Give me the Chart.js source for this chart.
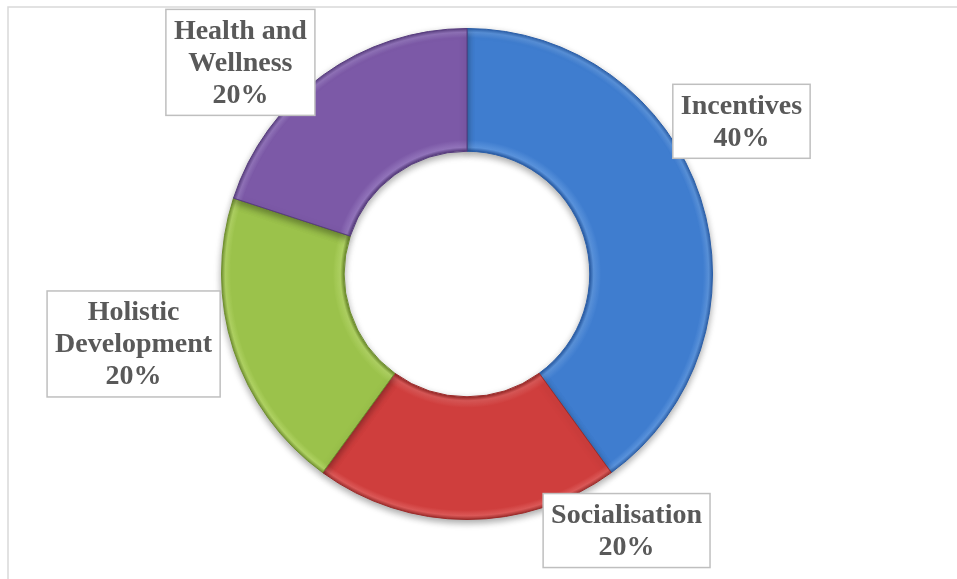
<!DOCTYPE html>
<html>
<head>
<meta charset="utf-8">
<script src="https://cdn.jsdelivr.net/npm/chart.js@4/dist/chart.umd.min.js"></script>
<style>
  html, body { margin: 0; padding: 0; background: #ffffff; }
  #wrap { position: relative; width: 957px; height: 579px; }
  canvas { display: block; }
</style>
</head>
<body>
<div id="wrap"><canvas id="c" width="957" height="579"></canvas></div>
<script>
// ---- data ----
const categories = ["Incentives", "Socialisation", "Holistic Development", "Health and Wellness"];
const labelLines = [["Incentives"], ["Socialisation"], ["Holistic", "Development"], ["Health and", "Wellness"]];
const values = [40, 20, 20, 20];

// ---- styles ----
const baseColors = ["#3f7dcf", "#cf3e3d", "#9bc24b", "#7c59a7"];
const lightColors = ["#5a93dc", "#dc5958", "#b0d363", "#9274bb"];
const darkColors = ["#2a5ea8", "#9c2b2a", "#6f8f2e", "#573c7e"];
// label box centre offsets, as fractions of the outer radius, relative to chart centre
const labelOffsets = [[1.118, -0.622], [0.650, 1.045], [-1.358, 0.285], [-0.923, -0.862]];

function sliceFill(ctx) {
  const chart = ctx.chart;
  const i = ctx.dataIndex;
  const a = chart.chartArea;
  if (!a || i === undefined) return baseColors[i || 0];
  const cx = (a.left + a.right) / 2, cy = (a.top + a.bottom) / 2;
  const r = Math.min(a.right - a.left, a.bottom - a.top) / 2;
  const ri = r * 0.5;
  const g = chart.ctx.createRadialGradient(cx, cy, ri, cx, cy, r);
  g.addColorStop(0, darkColors[i]);
  g.addColorStop(0.03, lightColors[i]);
  g.addColorStop(0.09, baseColors[i]);
  g.addColorStop(0.92, baseColors[i]);
  g.addColorStop(0.965, lightColors[i]);
  g.addColorStop(1, darkColors[i]);
  return g;
}

const framePlugin = {
  id: 'frame',
  beforeDraw(chart) {
    const c = chart.ctx;
    c.save();
    c.strokeStyle = '#d9d9d9';
    c.lineWidth = 1.5;
    c.strokeRect(8, 7, 2000, 2000);
    c.restore();
  }
};

const shadowPlugin = {
  id: 'shadow',
  beforeDatasetsDraw(chart) {
    const c = chart.ctx;
    c.save();
    c.shadowColor = 'rgba(0,0,0,0.35)';
    c.shadowBlur = 7;
    c.shadowOffsetY = 3;
  },
  afterDatasetsDraw(chart) {
    chart.ctx.restore();
  }
};

const labelPlugin = {
  id: 'boxLabels',
  afterDatasetsDraw(chart) {
    const c = chart.ctx;
    const meta = chart.getDatasetMeta(0);
    const total = values.reduce((s, v) => s + v, 0);
    const fontSize = 28, lineH = 32, padX = 8, padY = 5;
    c.save();
    c.font = 'bold ' + fontSize + 'px "Liberation Serif", "Times New Roman", serif';
    c.textAlign = 'center';
    c.textBaseline = 'middle';
    meta.data.forEach((arc, i) => {
      const lines = labelLines[i].concat([Math.round(values[i] / total * 100) + '%']);
      const w = Math.max(...lines.map(l => c.measureText(l).width)) + padX * 2;
      const h = lines.length * lineH + padY * 2;
      const x = arc.x + labelOffsets[i][0] * arc.outerRadius;
      const y = arc.y + labelOffsets[i][1] * arc.outerRadius;
      c.fillStyle = '#ffffff';
      c.fillRect(x - w / 2, y - h / 2, w, h);
      c.strokeStyle = '#bfbfbf';
      c.lineWidth = 1.5;
      c.strokeRect(x - w / 2, y - h / 2, w, h);
      c.fillStyle = '#595959';
      lines.forEach((l, k) => {
        c.fillText(l, x, y - h / 2 + padY + lineH * k + lineH / 2 + 1);
      });
    });
    c.restore();
  }
};

new Chart(document.getElementById('c'), {
  type: 'doughnut',
  data: {
    labels: categories,
    datasets: [{
      data: values,
      backgroundColor: sliceFill,
      borderColor: darkColors,
      borderWidth: 1,
      borderJoinStyle: 'miter'
    }]
  },
  options: {
    responsive: false,
    animation: false,
    cutout: '50%',
    rotation: 0,
    layout: { padding: { left: 221, right: 244, top: 28, bottom: 59 } },
    plugins: {
      legend: { display: false },
      tooltip: { enabled: false },
      title: { display: false }
    }
  },
  plugins: [framePlugin, shadowPlugin, labelPlugin]
});
</script>
</body>
</html>
